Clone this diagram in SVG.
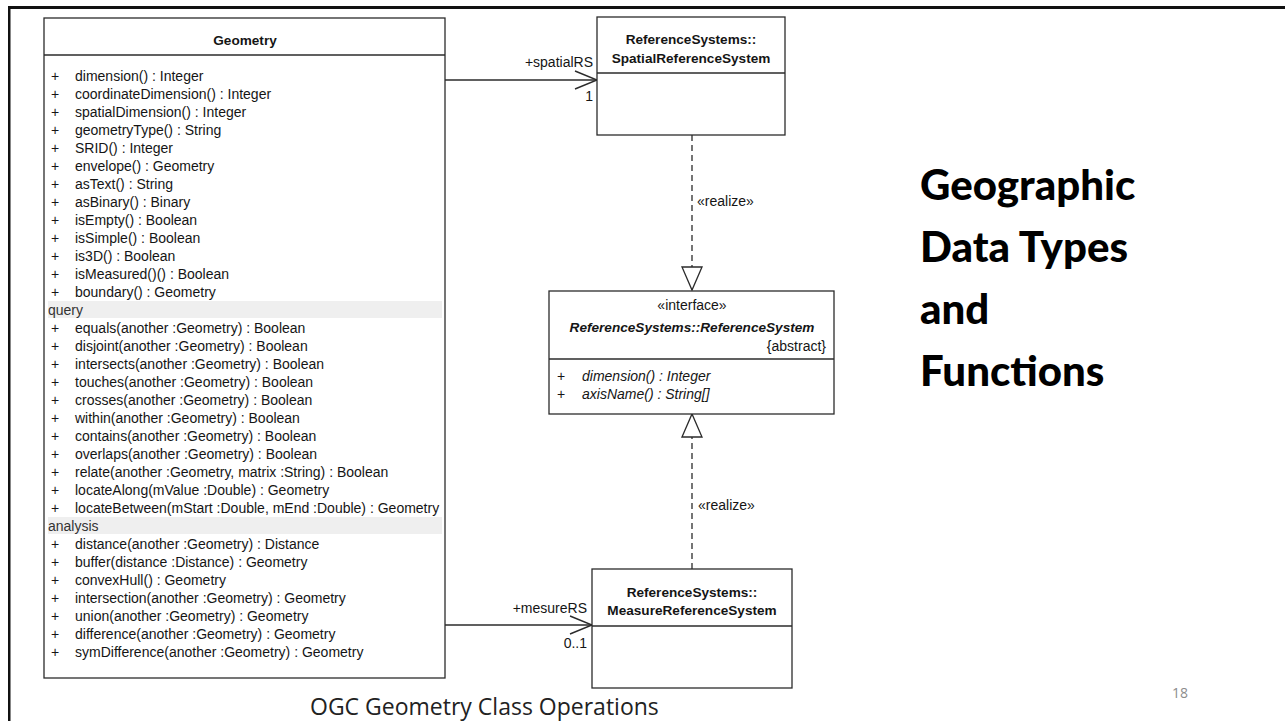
<svg xmlns="http://www.w3.org/2000/svg" width="1285" height="721" viewBox="0 0 1285 721">
  <style>
    .uml{font-family:"Liberation Sans",Arial,sans-serif;font-size:14px;fill:#151515}
    .b{font-weight:bold;font-size:13.6px}
    .it{font-style:italic}
    .mid{text-anchor:middle}
    .end{text-anchor:end}
    .box{fill:#fff;stroke:#2b2b2b;stroke-width:1.3}
    .sep{stroke:#2b2b2b;stroke-width:1.3}
    .band{fill:#efefef}
    .grp{fill:#333}
    .assoc{fill:none;stroke:#2b2b2b;stroke-width:1.4}
    .real{fill:none;stroke:#2b2b2b;stroke-width:1.3;stroke-dasharray:6 4}
    .title{font-family:Lato,"Open Sans",sans-serif;font-weight:900;font-size:42px;fill:#000}
    .caption{font-family:"Open Sans","Liberation Sans",sans-serif;font-size:23px;fill:#222}
    .pg{font-family:"Open Sans","Liberation Sans",sans-serif;font-size:14px;fill:#8c8c8c}
  </style>
  <defs>
    <marker id="openArrow" markerUnits="userSpaceOnUse" markerWidth="30" markerHeight="24" viewBox="-26 -12 30 24" refX="0" refY="0" orient="auto" overflow="visible">
      <path d="M-22,-9 L0,0 L-22,9" fill="none" stroke="#2b2b2b" stroke-width="1.4" stroke-dasharray="none"/>
    </marker>
    <marker id="hollowTri" markerUnits="userSpaceOnUse" markerWidth="30" markerHeight="26" viewBox="-27 -13 30 26" refX="0" refY="0" orient="auto" overflow="visible">
      <path d="M-23,-10 L0,0 L-23,10 Z" fill="#fff" stroke="#2b2b2b" stroke-width="1.3" stroke-dasharray="none"/>
    </marker>
  </defs>

  <rect width="1285" height="721" fill="#fff"/>

  <!-- slide frame -->
  <g id="frame" fill="#111">
    <rect x="8" y="6" width="1277" height="3"/>
    <rect x="8" y="6" width="2.5" height="715"/>
  </g>

  <!-- connectors -->
  <g id="connectors">
    <path class="assoc" d="M445,80 H597" marker-end="url(#openArrow)"/>
    <path class="assoc" d="M445,625 H592" marker-end="url(#openArrow)"/>
    <path class="real" d="M692,135 V290" marker-end="url(#hollowTri)"/>
    <path class="real" d="M692,569 V414" marker-end="url(#hollowTri)"/>
    <g class="uml">
      <text class="end" x="593" y="67">+spatialRS</text>
      <text class="end" x="593" y="101">1</text>
      <text class="end" x="587" y="613">+mesureRS</text>
      <text class="end" x="587" y="648">0..1</text>
      <text x="697" y="206">«realize»</text>
      <text x="698" y="510">«realize»</text>
    </g>
  </g>

  <!-- Geometry class -->
  <g id="geometry" class="uml">
    <rect class="box" x="44" y="18" width="401" height="660"/>
    <line class="sep" x1="44" y1="55" x2="445" y2="55"/>
    <text class="b mid" x="245" y="45">Geometry</text>
    <rect class="band" x="48" y="301" width="394" height="17"/>
    <rect class="band" x="48" y="517" width="394" height="17"/>
    <g class="mid">
      <text x="55" y="80.5">+</text><text x="55" y="98.5">+</text><text x="55" y="116.5">+</text>
      <text x="55" y="134.5">+</text><text x="55" y="152.5">+</text><text x="55" y="170.5">+</text>
      <text x="55" y="188.5">+</text><text x="55" y="206.5">+</text><text x="55" y="224.5">+</text>
      <text x="55" y="242.5">+</text><text x="55" y="260.5">+</text><text x="55" y="278.5">+</text>
      <text x="55" y="296.5">+</text>
      <text x="55" y="332.5">+</text><text x="55" y="350.5">+</text><text x="55" y="368.5">+</text>
      <text x="55" y="386.5">+</text><text x="55" y="404.5">+</text><text x="55" y="422.5">+</text>
      <text x="55" y="440.5">+</text><text x="55" y="458.5">+</text><text x="55" y="476.5">+</text>
      <text x="55" y="494.5">+</text><text x="55" y="512.5">+</text>
      <text x="55" y="548.5">+</text><text x="55" y="566.5">+</text><text x="55" y="584.5">+</text>
      <text x="55" y="602.5">+</text><text x="55" y="620.5">+</text><text x="55" y="638.5">+</text>
      <text x="55" y="656.5">+</text>
    </g>
    <text x="75" y="80.5">dimension() : Integer</text>
    <text x="75" y="98.5">coordinateDimension() : Integer</text>
    <text x="75" y="116.5">spatialDimension() : Integer</text>
    <text x="75" y="134.5">geometryType() : String</text>
    <text x="75" y="152.5">SRID() : Integer</text>
    <text x="75" y="170.5">envelope() : Geometry</text>
    <text x="75" y="188.5">asText() : String</text>
    <text x="75" y="206.5">asBinary() : Binary</text>
    <text x="75" y="224.5">isEmpty() : Boolean</text>
    <text x="75" y="242.5">isSimple() : Boolean</text>
    <text x="75" y="260.5">is3D() : Boolean</text>
    <text x="75" y="278.5">isMeasured()() : Boolean</text>
    <text x="75" y="296.5">boundary() : Geometry</text>
    <text class="grp" x="48" y="314.5">query</text>
    <text x="75" y="332.5">equals(another :Geometry) : Boolean</text>
    <text x="75" y="350.5">disjoint(another :Geometry) : Boolean</text>
    <text x="75" y="368.5">intersects(another :Geometry) : Boolean</text>
    <text x="75" y="386.5">touches(another :Geometry) : Boolean</text>
    <text x="75" y="404.5">crosses(another :Geometry) : Boolean</text>
    <text x="75" y="422.5">within(another :Geometry) : Boolean</text>
    <text x="75" y="440.5">contains(another :Geometry) : Boolean</text>
    <text x="75" y="458.5">overlaps(another :Geometry) : Boolean</text>
    <text x="75" y="476.5">relate(another :Geometry, matrix :String) : Boolean</text>
    <text x="75" y="494.5">locateAlong(mValue :Double) : Geometry</text>
    <text x="75" y="512.5">locateBetween(mStart :Double, mEnd :Double) : Geometry</text>
    <text class="grp" x="48" y="530.5">analysis</text>
    <text x="75" y="548.5">distance(another :Geometry) : Distance</text>
    <text x="75" y="566.5">buffer(distance :Distance) : Geometry</text>
    <text x="75" y="584.5">convexHull() : Geometry</text>
    <text x="75" y="602.5">intersection(another :Geometry) : Geometry</text>
    <text x="75" y="620.5">union(another :Geometry) : Geometry</text>
    <text x="75" y="638.5">difference(another :Geometry) : Geometry</text>
    <text x="75" y="656.5">symDifference(another :Geometry) : Geometry</text>
  </g>

  <!-- SpatialReferenceSystem class -->
  <g id="spatialRS" class="uml">
    <rect class="box" x="597" y="17" width="188" height="118"/>
    <line class="sep" x1="597" y1="73" x2="785" y2="73"/>
    <text class="b mid" x="691" y="44">ReferenceSystems::</text>
    <text class="b mid" x="691" y="63">SpatialReferenceSystem</text>
  </g>

  <!-- ReferenceSystem interface -->
  <g id="referenceSystem" class="uml">
    <rect class="box" x="549" y="291" width="285" height="123"/>
    <line class="sep" x1="549" y1="359" x2="834" y2="359"/>
    <text class="mid" x="692" y="310">«interface»</text>
    <text class="b it mid" x="692" y="332">ReferenceSystems::ReferenceSystem</text>
    <text class="end" x="826" y="351">{abstract}</text>
    <text class="mid" x="561" y="381">+</text>
    <text class="mid" x="561" y="399">+</text>
    <text class="it" x="582" y="381">dimension() : Integer</text>
    <text class="it" x="582" y="399">axisName() : String[]</text>
  </g>

  <!-- MeasureReferenceSystem class -->
  <g id="measureRS" class="uml">
    <rect class="box" x="592" y="569" width="200" height="119"/>
    <line class="sep" x1="592" y1="626" x2="792" y2="626"/>
    <text class="b mid" x="692" y="597">ReferenceSystems::</text>
    <text class="b mid" x="692" y="615">MeasureReferenceSystem</text>
  </g>

  <!-- slide title -->
  <g id="title" class="title">
    <text x="920" y="200">Geographic</text>
    <text x="920" y="262">Data Types</text>
    <text x="920" y="324">and</text>
    <text x="920" y="386">Functions</text>
  </g>

  <!-- caption and page number -->
  <g id="footer">
    <text class="caption" x="310" y="715">OGC Geometry Class Operations</text>
    <text class="pg" x="1172" y="698">18</text>
  </g>
</svg>
